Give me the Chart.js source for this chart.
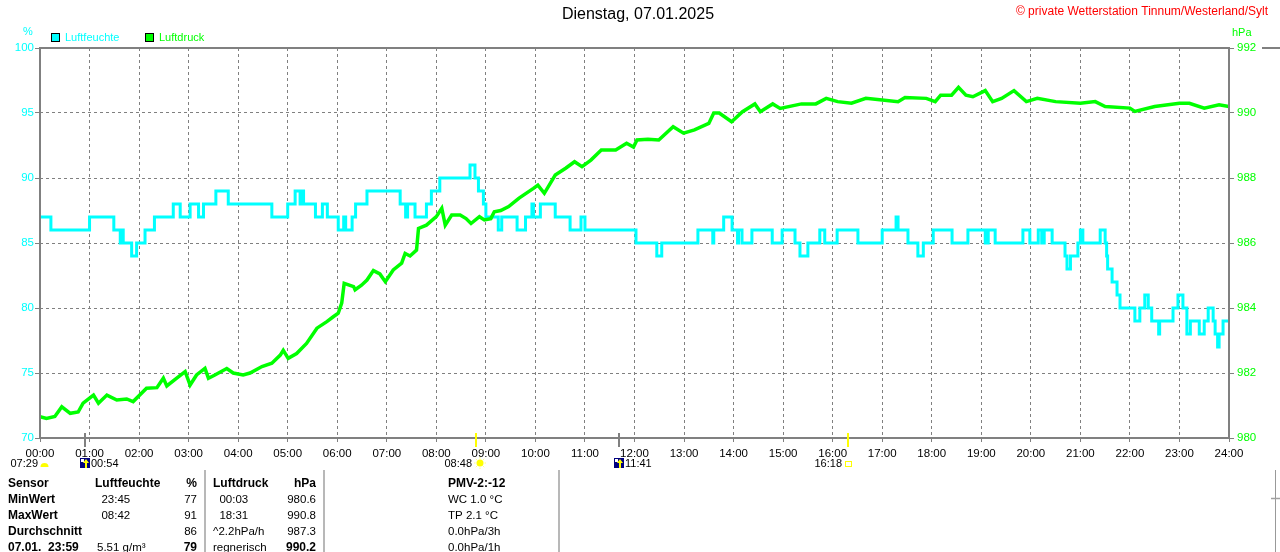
<!DOCTYPE html>
<html><head><meta charset="utf-8">
<script src="https://cdn.jsdelivr.net/npm/chart.js@4"></script>
<style>html,body{margin:0;padding:0;background:#fff;overflow:hidden}#wrap{position:relative;width:1280px;height:552px}</style>
</head><body><div id="wrap"><canvas id="c" width="1280" height="552"></canvas></div>
<script>
const xTickLabels = ['00:00','01:00','02:00','03:00','04:00','05:00','06:00','07:00','08:00','09:00','10:00','11:00','12:00','13:00','14:00','15:00','16:00','17:00','18:00','19:00','20:00','21:00','22:00','23:00','24:00'];

// Luftfeuchte (%): step start times (hours) and values
const humidityTimes = [0,0.22,1.0,1.49,1.62,1.65,1.68,1.85,1.95,2.12,2.31,2.69,2.83,3.03,3.2,3.3,3.55,3.8,4.68,5.0,5.15,5.25,5.27,5.32,5.56,5.7,5.8,6.02,6.13,6.17,6.3,6.37,6.6,7.27,7.38,7.42,7.57,7.8,7.9,8.07,8.68,8.78,8.85,8.95,9.0,9.25,9.32,9.63,9.8,9.93,9.96,10.1,10.4,10.7,10.92,11.0,12.03,12.45,12.55,13.28,13.58,13.6,13.8,13.97,14.08,14.1,14.17,14.37,14.78,14.98,15.24,15.34,15.5,15.74,15.84,16.09,16.51,17.0,17.28,17.32,17.52,17.72,17.83,18.03,18.41,18.73,19.08,19.14,19.28,19.84,19.98,20.15,20.22,20.27,20.43,20.69,20.73,20.8,20.95,21.0,21.05,21.4,21.5,21.53,21.55,21.64,21.74,21.8,22.1,22.2,22.3,22.37,22.44,22.58,22.6,22.87,22.97,23.07,23.15,23.22,23.4,23.5,23.58,23.68,23.72,23.77,23.8,23.88,24];
const humidityValues = [87,86,87,86,85,86,85,84,85,86,87,88,87,88,87,88,89,88,87,88,89,88,89,88,87,88,87,86,87,86,87,88,89,88,87,88,87,88,89,90,91,90,89,88,87,86,87,86,87,88,87,88,87,86,87,86,85,84,85,86,85,86,87,86,85,86,85,86,85,86,85,84,85,86,85,86,85,86,87,86,85,84,85,86,85,86,85,86,85,86,85,86,85,86,85,84,83,84,85,86,85,86,85,84,83,82,81,80,79,80,81,80,79,78,79,80,81,80,78,79,78,79,80,79,78,77,78,79,79];

// Luftdruck (hPa)
const pressureTimes = [0,0.13,0.3,0.44,0.61,0.77,0.87,1.08,1.18,1.35,1.55,1.75,1.88,2.15,2.36,2.49,2.56,2.76,2.93,3.03,3.16,3.33,3.4,3.53,3.77,3.9,4.1,4.24,4.48,4.68,4.85,4.91,5.01,5.18,5.38,5.59,5.79,5.92,6.02,6.09,6.14,6.33,6.36,6.49,6.6,6.73,6.86,6.97,7.13,7.3,7.37,7.47,7.6,7.64,7.8,8.0,8.11,8.18,8.31,8.48,8.6,8.7,8.87,8.97,9.1,9.17,9.3,9.46,9.67,9.96,10.05,10.18,10.4,10.61,10.79,10.94,11.12,11.33,11.62,11.84,11.98,12.05,12.27,12.49,12.78,12.99,13.21,13.5,13.6,13.71,13.96,14.18,14.43,14.54,14.79,14.94,15.37,15.66,15.87,16.1,16.38,16.67,17.0,17.32,17.46,17.89,18.07,18.18,18.4,18.54,18.69,18.83,19.08,19.23,19.41,19.66,19.91,20.13,20.5,21.0,21.3,21.5,22.0,22.1,22.5,23.0,23.2,23.5,23.8,24];
const pressureValues = [980.66,980.6,980.66,980.96,980.76,980.8,981.07,981.32,981.07,981.32,981.17,981.2,981.12,981.53,981.55,981.84,981.6,981.84,982.04,981.63,981.94,982.14,981.84,981.94,982.14,982.0,981.94,982.0,982.2,982.3,982.55,982.7,982.45,982.6,982.91,983.38,983.58,983.73,983.84,984.15,984.76,984.66,984.56,984.7,984.86,985.15,985.05,984.81,985.17,985.38,985.68,985.6,985.78,986.45,986.55,986.81,987.07,986.55,986.86,986.86,986.75,986.6,986.81,986.71,986.75,986.96,987.0,987.12,987.38,987.68,987.78,987.53,988.09,988.3,988.5,988.35,988.55,988.86,988.86,989.07,988.95,989.17,989.19,989.17,989.58,989.38,989.48,989.68,990.0,990.0,989.73,990.04,990.28,990.04,990.28,990.14,990.28,990.28,990.45,990.35,990.3,990.45,990.4,990.35,990.48,990.45,990.35,990.55,990.55,990.79,990.55,990.5,990.69,990.35,990.45,990.69,990.35,990.45,990.35,990.3,990.35,990.2,990.15,990.05,990.2,990.3,990.3,990.15,990.25,990.2];

// Sun / moon markers
const markerTimes = [0.9, 8.8, 11.683, 16.3];
const markerKinds = ['moon','sun','moon','sunset'];
const markerLabels = ['00:54','08:48','11:41','16:18'];
const dawnLabel = '07:29';

// Statistics table
const tableRows = [
  ['Sensor','Luftfeuchte','%','Luftdruck','hPa','PMV-2:-12'],
  ['MinWert','  23:45','77','  00:03','980.6','WC 1.0 °C'],
  ['MaxWert','  08:42','91','  18:31','990.8','TP 2.1 °C'],
  ['Durchschnitt','','86','^2.2hPa/h','987.3','0.0hPa/3h'],
  ['07.01.  23:59','5.51 g/m³','79','regnerisch','990.2','0.0hPa/1h']
];

const FONT = "'Liberation Sans', Arial, sans-serif";
const GRID = '#808080';

const decor = {
  id: 'decor',
  afterDraw(chart) {
    const ctx = chart.ctx, a = chart.chartArea, xs = chart.scales.x;
    ctx.save();
    // frame
    ctx.strokeStyle = GRID; ctx.lineWidth = 2; ctx.setLineDash([]);
    ctx.strokeRect(a.left, a.top, a.right - a.left, a.bottom - a.top);
    // fragments of neighbouring panel
    ctx.beginPath(); ctx.moveTo(1262, a.top); ctx.lineTo(1280, a.top); ctx.stroke();
    ctx.lineWidth = 1; ctx.strokeStyle = '#999';
    ctx.beginPath(); ctx.moveTo(1275.5, 470); ctx.lineTo(1275.5, 552); ctx.stroke();
    // title
    ctx.fillStyle = '#000'; ctx.font = '16px ' + FONT; ctx.textAlign = 'center'; ctx.textBaseline = 'middle';
    ctx.fillText('Dienstag, 07.01.2025', 638, 15);
    ctx.fillStyle = '#ff0000'; ctx.font = '12px ' + FONT; ctx.textAlign = 'right';
    ctx.fillText('© private Wetterstation Tinnum/Westerland/Sylt', 1268, 12);
    // axis units
    ctx.font = '11px ' + FONT; ctx.textAlign = 'left';
    ctx.fillStyle = '#00ffff'; ctx.fillText('%', 23, 32);
    ctx.fillStyle = '#00ff00'; ctx.fillText('hPa', 1232, 33);
    // legend
    const leg = [[51, 65, '#00ffff', chart.data.datasets[0].label],[145, 159, '#00ff00', chart.data.datasets[1].label]];
    leg.forEach(([bx, tx, col, txt]) => {
      ctx.fillStyle = col; ctx.fillRect(bx, 33, 9, 9);
      ctx.strokeStyle = '#000'; ctx.lineWidth = 1; ctx.strokeRect(bx + 0.5, 33.5, 8, 8);
      ctx.fillStyle = col; ctx.fillText(txt, tx, 38);
    });
    // markers
    ctx.font = '11px ' + FONT; ctx.textBaseline = 'middle';
    const y0 = xs.getPixelForValue(0);
    ctx.fillStyle = '#000'; ctx.textAlign = 'right'; ctx.fillText(dawnLabel, y0 - 2, 464);
    ctx.fillStyle = '#ffff00';
    ctx.beginPath(); ctx.arc(y0 + 4.5, 467, 4, Math.PI, 0); ctx.fill();
    markerTimes.forEach((t, i) => {
      const px = Math.round(xs.getPixelForValue(t));
      const kind = markerKinds[i];
      ctx.lineWidth = 2; ctx.setLineDash([]);
      ctx.strokeStyle = kind === 'moon' ? GRID : '#ffff00';
      ctx.beginPath(); ctx.moveTo(px, a.bottom - 5); ctx.lineTo(px, a.bottom + 9); ctx.stroke();
      ctx.fillStyle = '#000';
      if (kind === 'moon') {
        ctx.fillStyle = '#000080'; ctx.fillRect(px - 5, 458, 10, 10);
        ctx.fillStyle = '#fff'; ctx.fillRect(px - 4, 459, 3, 3);
        ctx.fillStyle = '#ffff00'; ctx.fillRect(px, 461, 2, 7);
        ctx.beginPath(); ctx.moveTo(px - 2, 463); ctx.lineTo(px + 1, 459); ctx.lineTo(px + 4, 463); ctx.fill();
        ctx.fillStyle = '#000'; ctx.textAlign = 'left'; ctx.fillText(markerLabels[i], px + 6, 464);
      } else if (kind === 'sun') {
        ctx.fillStyle = '#000'; ctx.textAlign = 'right'; ctx.fillText(markerLabels[i], px - 4, 464);
        ctx.fillStyle = '#ffff00'; ctx.beginPath(); ctx.arc(px + 4, 463, 3.5, 0, Math.PI * 2); ctx.fill();
        ctx.strokeStyle = '#ffff80'; ctx.lineWidth = 1;
        for (let k = 0; k < 8; k++) { const an = k * Math.PI / 4; ctx.beginPath(); ctx.moveTo(px + 4 + Math.cos(an) * 4.5, 463 + Math.sin(an) * 4.5); ctx.lineTo(px + 4 + Math.cos(an) * 6, 463 + Math.sin(an) * 6); ctx.stroke(); }
      } else {
        ctx.fillStyle = '#000'; ctx.textAlign = 'right'; ctx.fillText(markerLabels[i], px - 6, 464);
        ctx.strokeStyle = '#ffff00'; ctx.lineWidth = 1; ctx.strokeRect(px - 2.5, 461.5, 6, 5);
      }
    });
    // table
    const rowY = [484, 500, 516, 532, 548];
    tableRows.forEach((r, i) => {
      const y = rowY[i];
      const n = '11.5px ' + FONT, bb = 'bold 12px ' + FONT;
      ctx.fillStyle = '#000'; ctx.textBaseline = 'middle';
      ctx.font = bb; ctx.textAlign = 'left'; ctx.fillText(r[0], 8, y);
      ctx.font = i === 0 ? bb : n; ctx.fillText(r[1], i === 4 ? 97 : 95, y);
      ctx.font = (i === 0 || i === 4) ? bb : n; ctx.textAlign = 'right'; ctx.fillText(r[2], 197, y);
      ctx.font = i === 0 ? bb : n; ctx.textAlign = 'left'; ctx.fillText(r[3], 213, y);
      ctx.font = (i === 0 || i === 4) ? bb : n; ctx.textAlign = 'right'; ctx.fillText(r[4], 316, y);
      ctx.font = i === 0 ? bb : n; ctx.textAlign = 'left'; ctx.fillText(r[5], 448, y);
    });
    ctx.strokeStyle = '#a0a0a0'; ctx.lineWidth = 1.5;
    [205, 324, 559].forEach(x => { ctx.beginPath(); ctx.moveTo(x, 470); ctx.lineTo(x, 552); ctx.stroke(); });
    ctx.beginPath(); ctx.moveTo(1271, 498.5); ctx.lineTo(1280, 498.5); ctx.stroke();
    ctx.restore();
  }
};

new Chart(document.getElementById('c'), {
  type: 'line',
  data: {
    datasets: [
      { label: 'Luftfeuchte', data: humidityTimes.map((t, i) => ({ x: t, y: humidityValues[i] })), yAxisID: 'y',
        stepped: true, borderColor: '#00ffff', borderWidth: 3, pointRadius: 0, fill: false, order: 1 },
      { label: 'Luftdruck', data: pressureTimes.map((t, i) => ({ x: t, y: pressureValues[i] })), yAxisID: 'y1',
        borderColor: '#00ff00', borderWidth: 3.5, pointRadius: 0, tension: 0, fill: false, order: 0 }
    ]
  },
  options: {
    responsive: false, animation: false, devicePixelRatio: 1,
    layout: { padding: { top: 48, left: 0, right: 0, bottom: 0 } },
    plugins: { legend: { display: false }, tooltip: { enabled: false }, title: { display: false } },
    scales: {
      x: { type: 'linear', min: 0, max: 24,
        ticks: { stepSize: 1, autoSkip: false, maxRotation: 0, color: '#000', font: { family: FONT, size: 11.5 }, padding: 5,
          callback: (v) => xTickLabels[v] },
        grid: { color: GRID, lineWidth: 1, drawTicks: true, tickLength: 4, tickColor: GRID },
        border: { display: false, dash: [3, 3] },
        afterFit: (s) => { s.height = 114; } },
      y: { position: 'left', min: 70, max: 100,
        ticks: { stepSize: 5, color: '#00ffff', font: { family: FONT, size: 11.5 }, padding: 1 },
        grid: { color: GRID, lineWidth: 1, drawTicks: true, tickLength: 5, tickColor: GRID },
        border: { display: false, dash: [3, 3] },
        afterFit: (s) => { s.width = 40; } },
      y1: { position: 'right', min: 980, max: 992,
        ticks: { stepSize: 2, color: '#00ff00', font: { family: FONT, size: 11.5 }, padding: 3 },
        grid: { drawOnChartArea: false, drawTicks: true, tickLength: 5, tickColor: GRID },
        border: { display: false },
        afterFit: (s) => { s.width = 51; } }
    }
  },
  plugins: [decor]
});
</script></body></html>
